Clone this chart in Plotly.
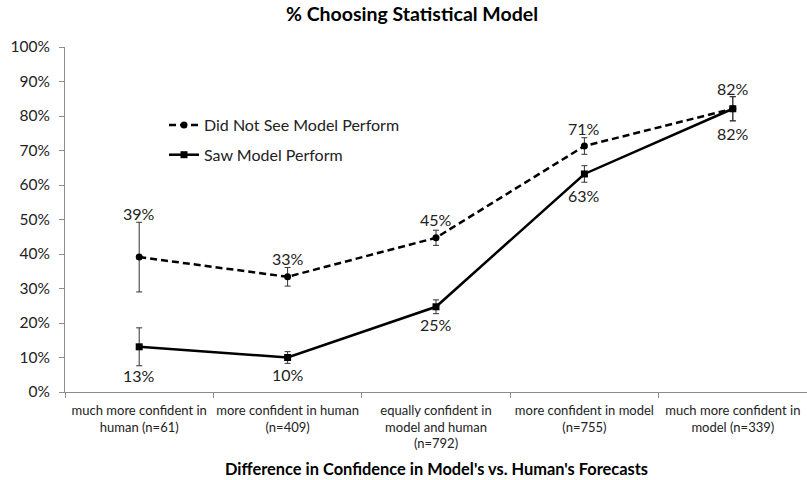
import plotly.graph_objects as go

categories = [
    "much more confident in<br>human (n=61)",
    "more confident in human<br>(n=409)",
    "equally confident in<br>model and human<br>(n=792)",
    "more confident in model<br>(n=755)",
    "much more confident in<br>model (n=339)",
]
did_not_see = [39.1, 33.4, 44.7, 71.3, 82.1]
did_not_see_err = [10.1, 2.7, 2.2, 2.4, 3.5]
did_not_see_labels = ["39%", "33%", "45%", "71%", "82%"]
saw = [13.1, 10.0, 24.7, 63.2, 82.1]
saw_err = [5.5, 1.7, 2.0, 2.4, 3.5]
saw_labels = ["13%", "10%", "25%", "63%", "82%"]

y_ticks = list(range(0, 101, 10))

FONT = "Lato"
W, H = 807, 480
L, R, T, B = 65, 0, 47, 88

fig = go.Figure()
fig.add_trace(go.Scatter(
    x=categories, y=did_not_see, name="Did Not See Model Perform",
    mode="lines+markers", legendgroup="a",
    line=dict(color="black", width=2.5, dash="7px,4px"),
    marker=dict(symbol="circle", size=7, color="black"),
    error_y=dict(type="data", array=did_not_see_err, visible=True,
                 color="#333333", thickness=1, width=3),
))
fig.add_trace(go.Scatter(
    x=categories, y=saw, name="Saw Model Perform",
    mode="lines+markers", legendgroup="b",
    line=dict(color="black", width=2.5),
    marker=dict(symbol="square", size=7, color="black"),
    error_y=dict(type="data", array=saw_err, visible=True,
                 color="#333333", thickness=1, width=3),
))

above = [44, 18, 18, 18, 20]
below = [29, 17, 18, 22, 25]
annotations = []
for c, v, t, s in zip(categories, did_not_see, did_not_see_labels, above):
    annotations.append(dict(x=c, y=v, text=t, showarrow=False, yshift=s,
                            font=dict(family=FONT, size=16, color="#222")))
for c, v, t, s in zip(categories, saw, saw_labels, below):
    annotations.append(dict(x=c, y=v, text=t, showarrow=False, yshift=-s,
                            font=dict(family=FONT, size=16, color="#222")))
annotations.append(dict(
    xref="paper", yref="paper", x=0.5, y=0, yshift=-76, showarrow=False,
    text="<b>Difference in Confidence in Model's vs. Human's Forecasts</b>",
    font=dict(family=FONT, size=16.4, color="black"), yanchor="middle"))

fig.update_layout(
    width=W, height=H,
    margin=dict(l=L, r=R, t=T, b=B, autoexpand=False),
    paper_bgcolor="white", plot_bgcolor="white",
    title=dict(text="<b>% Choosing Statistical Model</b>", x=412 / W, xanchor="center",
               y=1 - 14 / H, yanchor="middle", xref="container", yref="container",
               font=dict(family=FONT, size=19.5, color="black")),
    showlegend=True,
    legend=dict(x=(164 - L) / (W - L - R), y=(392 - 108) / 345, xanchor="left", yanchor="top",
                font=dict(family=FONT, size=16, color="#222"), bgcolor="rgba(0,0,0,0)",
                tracegroupgap=6),
    annotations=annotations,
    font=dict(family=FONT),
)
fig.update_xaxes(
    type="category", categoryorder="array", categoryarray=categories,
    range=[-0.5, 4.5], showline=True, linecolor="#8c8c8c", linewidth=1,
    ticks="outside", tickson="boundaries", ticklen=5, tickcolor="#8c8c8c",
    showgrid=False, tickfont=dict(family=FONT, size=13, color="#222"),
    tickangle=0, automargin=False, ticklabelstandoff=6,
)
fig.update_yaxes(
    range=[0, 100], tickvals=y_ticks, ticktext=[f"{v}%" for v in y_ticks],
    showline=True, linecolor="#8c8c8c", linewidth=1,
    ticks="outside", ticklen=5, tickcolor="#8c8c8c", showgrid=False, zeroline=False,
    tickfont=dict(family=FONT, size=15.5, color="#222"), ticklabelstandoff=6,
    automargin=False,
)
fig.write_html("out.html", config={"displayModeBar": False},
               post_script="document.body.style.margin='0';document.body.style.overflow='hidden';")
